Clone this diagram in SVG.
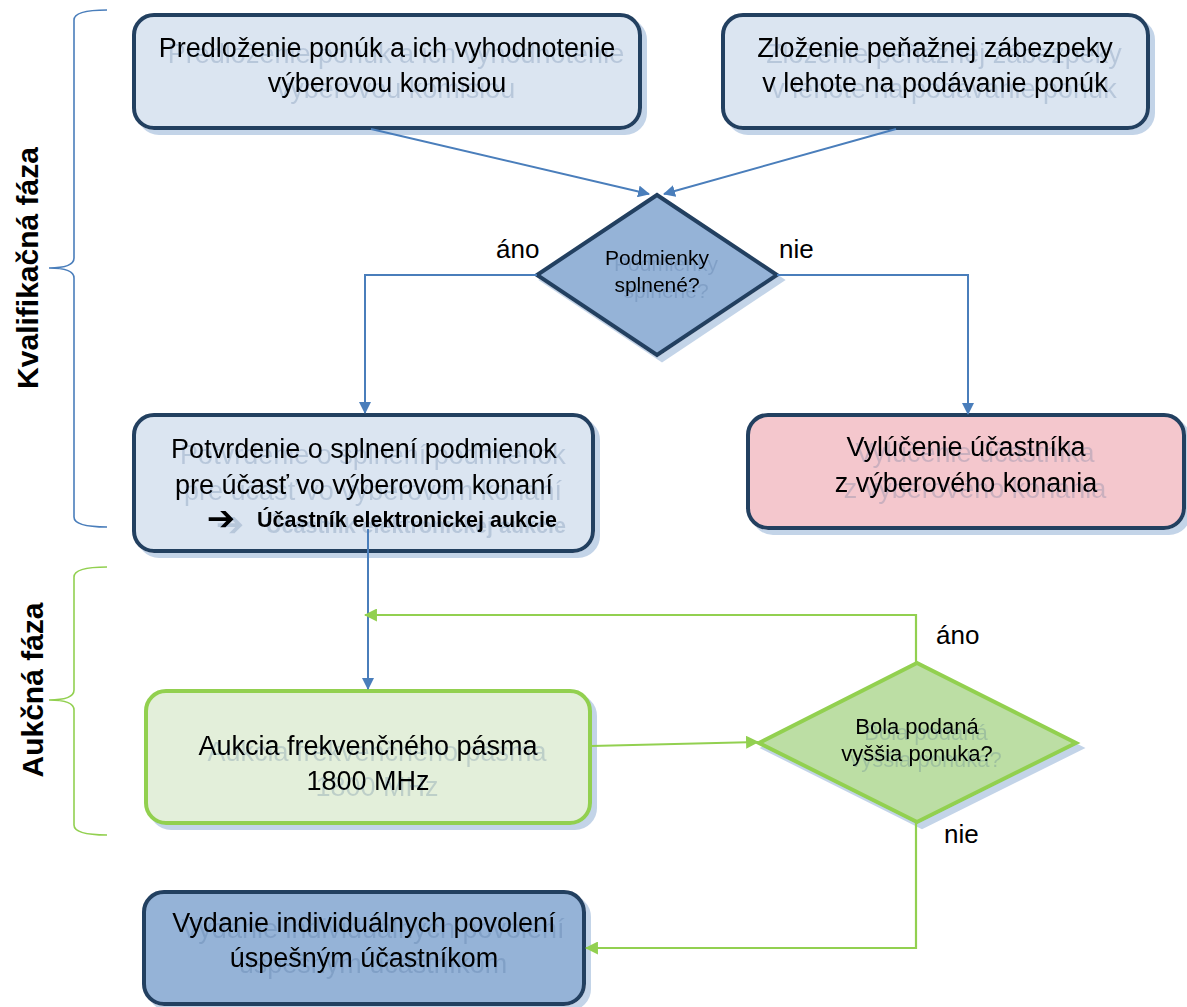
<svg xmlns="http://www.w3.org/2000/svg" width="1187" height="1007" viewBox="0 0 1187 1007">
  <defs>
    <style>
      text { font-family: "Liberation Sans", Arial, sans-serif; fill: #000; }
      .t { font-size: 27px; text-anchor: middle; }
      .d { font-size: 22px; text-anchor: middle; }
      .lbl { font-size: 26px; }
      .side { font-size: 30px; font-weight: bold; text-anchor: middle; }
      .navy { stroke: #243f60; stroke-width: 4; }
      .grn { stroke: #92d050; stroke-width: 4; }
      .cb { fill: none; stroke: #4a7ebb; stroke-width: 2; }
      .cg { fill: none; stroke: #92d050; stroke-width: 2.2; }
    </style>
    <filter id="boxsh" x="-5%" y="-5%" width="115%" height="120%">
      <feOffset in="SourceAlpha" dx="5" dy="5" result="o"/>
      <feFlood flood-color="#b8cce4" flood-opacity="0.85"/>
      <feComposite in2="o" operator="in" result="s"/>
      <feMerge><feMergeNode in="s"/><feMergeNode in="SourceGraphic"/></feMerge>
    </filter>
    <filter id="txtsh" x="-5%" y="-20%" width="115%" height="150%">
      <feOffset in="SourceAlpha" dx="9" dy="6" result="o"/>
      <feGaussianBlur in="o" stdDeviation="0.6" result="b"/>
      <feFlood flood-color="#3a5a8a" flood-opacity="0.22"/>
      <feComposite in2="b" operator="in" result="s"/>
      <feMerge><feMergeNode in="s"/><feMergeNode in="SourceGraphic"/></feMerge>
    </filter>
    <marker id="ab" viewBox="0 0 12 12" refX="11" refY="6" markerWidth="12" markerHeight="12" markerUnits="userSpaceOnUse" orient="auto">
      <path d="M0,0 L12,6 L0,12 Z" fill="#4a7ebb"/>
    </marker>
    <marker id="ag" viewBox="0 0 12 12" refX="11" refY="6" markerWidth="13" markerHeight="13" markerUnits="userSpaceOnUse" orient="auto">
      <path d="M0,0 L12,6 L0,12 Z" fill="#92d050"/>
    </marker>
  </defs>

  <rect width="1187" height="1007" fill="#ffffff"/>

  <!-- Phase brackets -->
  <g id="phase-kvalifikacna">
    <path d="M107,10 Q74,10 74,20 L74,258 Q74,268 49,268 Q74,268 74,278 L74,517 Q74,527 107,527" fill="none" stroke="#4a7ebb" stroke-width="1.6"/>
    <text class="side" transform="translate(38,268) rotate(-90)">Kvalifikačná fáza</text>
  </g>
  <g id="phase-aukcna">
    <path d="M107,567 Q74,567 74,577 L74,690 Q74,700 49,700 Q74,700 74,710 L74,825 Q74,835 107,835" fill="none" stroke="#92d050" stroke-width="1.6"/>
    <text class="side" transform="translate(43,690) rotate(-90)">Aukčná fáza</text>
  </g>

  <!-- Nodes -->
  <g id="n-predlozenie">
    <rect x="134" y="15" width="506" height="113" rx="20" fill="#dbe5f1" class="navy" filter="url(#boxsh)"/>
    <g filter="url(#txtsh)">
      <text class="t" x="387" y="57">Predloženie ponúk a ich vyhodnotenie</text>
      <text class="t" x="387" y="92">výberovou komisiou</text>
    </g>
  </g>
  <g id="n-zlozenie">
    <rect x="723" y="15" width="425" height="113" rx="20" fill="#dbe5f1" class="navy" filter="url(#boxsh)"/>
    <g filter="url(#txtsh)">
      <text class="t" x="935" y="57">Zloženie peňažnej zábezpeky</text>
      <text class="t" x="935" y="92">v lehote na podávanie ponúk</text>
    </g>
  </g>
  <g id="n-podmienky">
    <polygon points="657,195 777,275 657,355 537,275" fill="#95b3d7" class="navy" stroke-linejoin="miter" filter="url(#boxsh)"/>
    <g filter="url(#txtsh)">
      <text class="d" x="657" y="265" style="font-size:21px">Podmienky</text>
      <text class="d" x="657" y="292" style="font-size:21px">splnené?</text>
    </g>
  </g>
  <g id="n-potvrdenie">
    <rect x="134" y="415" width="459" height="136" rx="20" fill="#dbe5f1" class="navy" filter="url(#boxsh)"/>
    <g filter="url(#txtsh)">
      <text class="t" x="364" y="458">Potvrdenie o splnení podmienok</text>
      <text class="t" x="364" y="494">pre účasť vo výberovom konaní</text>
      <text x="221" y="530" style="font-family:'DejaVu Sans',sans-serif;font-size:34px;font-weight:bold;text-anchor:middle">➔</text>
      <text x="257" y="527" style="font-size:21.5px;font-weight:bold">Účastník elektronickej aukcie</text>
    </g>
  </g>
  <g id="n-vylucenie">
    <rect x="748" y="415" width="436" height="113" rx="20" fill="#f4c7cd" class="navy" filter="url(#boxsh)"/>
    <g filter="url(#txtsh)">
      <text class="t" x="966" y="456">Vylúčenie účastníka</text>
      <text class="t" x="966" y="492">z výberového konania</text>
    </g>
  </g>
  <g id="n-aukcia">
    <rect x="146" y="691" width="444" height="132" rx="20" fill="#e3efda" class="grn" filter="url(#boxsh)"/>
    <g filter="url(#txtsh)">
      <text class="t" x="368" y="755">Aukcia frekvenčného pásma</text>
      <text class="t" x="368" y="790">1800 MHz</text>
    </g>
  </g>
  <g id="n-vyssia">
    <polygon points="917,663 1076,743 917,822 759,743" fill="#bcdea4" class="grn" filter="url(#boxsh)"/>
    <g filter="url(#txtsh)">
      <text class="d" x="917" y="734">Bola podaná</text>
      <text class="d" x="917" y="761">vyššia ponuka?</text>
    </g>
  </g>
  <g id="n-vydanie">
    <rect x="144" y="892" width="440" height="112" rx="20" fill="#95b3d7" class="navy" filter="url(#boxsh)"/>
    <g filter="url(#txtsh)">
      <text class="t" x="364" y="932">Vydanie individuálnych povolení</text>
      <text class="t" x="364" y="967">úspešným účastníkom</text>
    </g>
  </g>

  <!-- Connectors -->
  <g id="connectors">
    <path class="cb" d="M371,129 L649,194" marker-end="url(#ab)"/>
    <path class="cb" d="M896,129 L664,194" marker-end="url(#ab)"/>
    <path class="cb" d="M537,275 L365,275 L365,413" marker-end="url(#ab)"/>
    <path class="cb" d="M777,275 L968,275 L968,414" marker-end="url(#ab)"/>
    <path class="cb" d="M368,529 L368,689" marker-end="url(#ab)"/>
    <path class="cg" d="M916,663 L916,615 L365,615" marker-end="url(#ag)"/>
    <path class="cg" d="M591,746 L758,742" marker-end="url(#ag)"/>
    <path class="cg" d="M916,823 L916,948 L586,948" marker-end="url(#ag)"/>
    <text class="lbl" x="496" y="258">áno</text>
    <text class="lbl" x="779" y="258">nie</text>
    <text class="lbl" x="936" y="644">áno</text>
    <text class="lbl" x="944" y="843">nie</text>
  </g>
</svg>
